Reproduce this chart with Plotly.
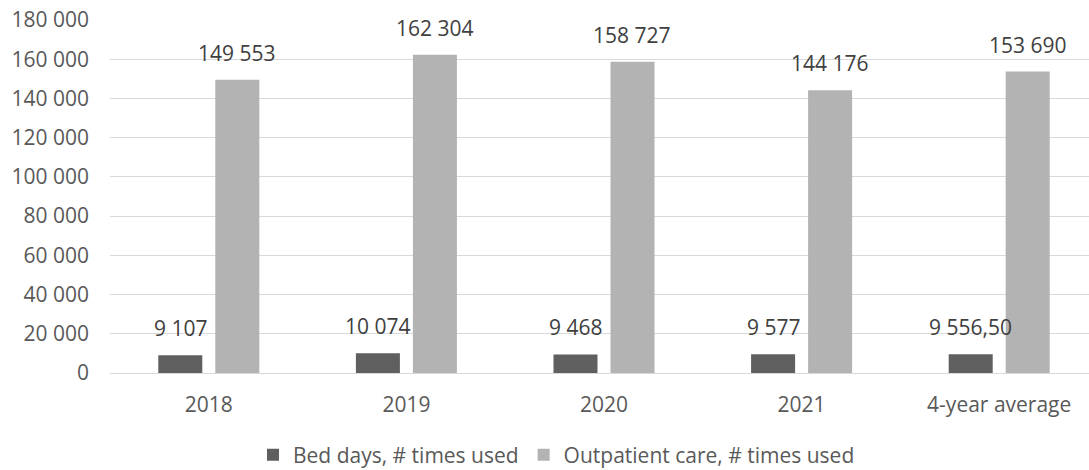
import plotly.graph_objects as go

categories = ["2018", "2019", "2020", "2021", "4-year average"]
bed_days = [9107, 10074, 9468, 9577, 9556.5]
outpatient = [149553, 162304, 158727, 144176, 153690]
bed_labels = ["9 107", "10 074", "9 468", "9 577", "9 556,50"]
out_labels = ["149 553", "162 304", "158 727", "144 176", "153 690"]
y_ticks = [0, 20000, 40000, 60000, 80000, 100000, 120000, 140000, 160000, 180000]

DARK = "#5f5f5f"
LIGHT = "#b3b3b3"
FONT = "Open Sans"
FS = 21

fig = go.Figure()
fig.add_trace(go.Bar(name="Bed days, # times used", x=categories, y=bed_days,
                     marker=dict(color=DARK, line=dict(width=0))))
fig.add_trace(go.Bar(name="Outpatient care, # times used", x=categories, y=outpatient,
                     marker=dict(color=LIGHT, line=dict(width=0))))

PX_PER_CAT = 197.5
shift = 0.1443 * PX_PER_CAT
for i, (v, t) in enumerate(zip(bed_days, bed_labels)):
    fig.add_annotation(x=i, y=v, text=t, showarrow=False, xref="x", yref="y",
                       yanchor="bottom", xanchor="center", xshift=-shift, yshift=11,
                       font=dict(family=FONT, size=FS, color="#404040"))
for i, (v, t) in enumerate(zip(outpatient, out_labels)):
    fig.add_annotation(x=i, y=v, text=t, showarrow=False, xref="x", yref="y",
                       yanchor="bottom", xanchor="center", xshift=shift, yshift=11,
                       font=dict(family=FONT, size=FS, color="#404040"))

fig.update_layout(
    width=1089, height=470,
    margin=dict(l=110, r=0, t=19.5, b=97),
    paper_bgcolor="white", plot_bgcolor="white",
    barmode="group", bargap=0.423, bargroupgap=0.228,
    separators=", ",
    font=dict(family=FONT, size=FS, color="#595959"),
    showlegend=True,
    legend=dict(orientation="h", x=0.511, xanchor="center", xref="container",
                y=1 - 455 / 470, yanchor="middle", yref="container",
                font=dict(family=FONT, size=FS, color="#595959"),
                itemwidth=30, traceorder="normal"),
    xaxis=dict(type="category", range=[-0.5, 4.5 - 9 / PX_PER_CAT],
               showgrid=False, showline=True, linecolor="#d9d9d9", linewidth=1,
               ticks="", ticklabelstandoff=13,
               tickfont=dict(family=FONT, size=FS, color="#595959")),
    yaxis=dict(range=[0, 180000], tickvals=y_ticks, tickformat=",d",
               showgrid=True, gridcolor="#d9d9d9", gridwidth=1,
               zeroline=False, showline=False, ticks="", ticklabelstandoff=20,
               tickfont=dict(family=FONT, size=FS, color="#595959")),
)

fig.write_html("out.html")
